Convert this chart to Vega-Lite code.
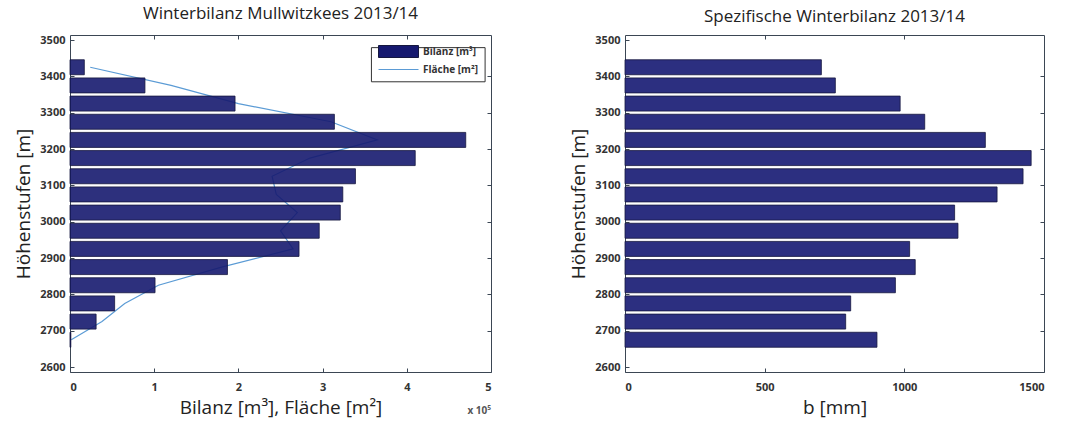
{
  "$schema": "https://vega.github.io/schema/vega-lite/v6.json",
  "background": "white",
  "padding": {"left": 14, "top": 4, "right": 0, "bottom": 0},
  "spacing": 77,
  "resolve": {"legend": {"fill": "independent", "stroke": "independent"}, "scale": {"fill": "independent", "stroke": "independent"}},
  "config": {
    "font": "Open Sans",
    "view": {"stroke": "#3b4654", "strokeWidth": 1},
    "axis": {
      "grid": false,
      "domain": false,
      "tickSize": -4,
      "tickColor": "#3b4654",
      "labelFontSize": 11,
      "labelFontWeight": "bold",
      "labelColor": "#333333",
      "labelPadding": 9,
      "labelOverlap": false,
      "format": "d",
      "titleFontSize": 19,
      "titleFontWeight": "normal",
      "titleColor": "#222222",
      "titleFont": "Open Sans"
    },
    "axisX": {"labelPadding": 13, "titlePadding": 6},
    "legend": {
      "title": null,
      "orient": "none",
      "padding": 0,
      "labelFontSize": 10,
      "labelFontWeight": "bold",
      "labelColor": "#333333",
      "labelOffset": 4,
      "symbolSize": 1600,
      "labelLimit": 200
    },
    "title": {"fontSize": 17, "fontWeight": "normal", "color": "#222222", "offset": 8, "font": "Open Sans"}
  },
  "datasets": {
    "stufen": [
      {"hoehe": 2675, "bilanz": 1000, "flaeche": 1500, "b": 902},
      {"hoehe": 2725, "bilanz": 31000, "flaeche": 38000, "b": 790},
      {"hoehe": 2775, "bilanz": 53000, "flaeche": 65000, "b": 808},
      {"hoehe": 2825, "bilanz": 101000, "flaeche": 105000, "b": 968},
      {"hoehe": 2875, "bilanz": 187000, "flaeche": 180000, "b": 1039},
      {"hoehe": 2925, "bilanz": 272000, "flaeche": 265000, "b": 1019},
      {"hoehe": 2975, "bilanz": 296000, "flaeche": 250000, "b": 1192},
      {"hoehe": 3025, "bilanz": 321000, "flaeche": 270000, "b": 1180},
      {"hoehe": 3075, "bilanz": 324000, "flaeche": 245000, "b": 1332},
      {"hoehe": 3125, "bilanz": 339000, "flaeche": 240000, "b": 1425},
      {"hoehe": 3175, "bilanz": 410000, "flaeche": 285000, "b": 1454},
      {"hoehe": 3225, "bilanz": 470000, "flaeche": 365000, "b": 1290},
      {"hoehe": 3275, "bilanz": 314000, "flaeche": 310000, "b": 1073},
      {"hoehe": 3325, "bilanz": 196000, "flaeche": 200000, "b": 985},
      {"hoehe": 3375, "bilanz": 89000, "flaeche": 120000, "b": 753},
      {"hoehe": 3425, "bilanz": 17000, "flaeche": 24000, "b": 703}
    ]
  },
  "hconcat": [
    {
      "width": 421,
      "height": 337,
      "title": "Winterbilanz Mullwitzkees 2013/14",
      "resolve": {"axis": {"x": "independent", "y": "independent"}},
      "layer": [
        {
          "data": {"name": "stufen"},
          "mark": {"type": "line", "strokeWidth": 1.2},
          "encoding": {
            "x": {
              "field": "flaeche", "type": "quantitative",
              "scale": {"domain": [0, 500000], "nice": false},
              "axis": {"values": [0, 100000, 200000, 300000, 400000, 500000], "labelExpr": "datum.value / 100000", "title": "Bilanz [m³], Fläche [m²]"}
            },
            "y": {
              "field": "hoehe", "type": "quantitative",
              "scale": {"domain": [2600, 3500], "nice": false, "zero": false},
              "axis": {"values": [2600, 2700, 2800, 2900, 3000, 3100, 3200, 3300, 3400, 3500], "title": "Höhenstufen [m]", "titlePadding": 6}
            },
            "order": {"field": "hoehe", "type": "quantitative"},
            "stroke": {
              "datum": "Fläche [m²]",
              "scale": {"range": ["#5b9bd5"]},
              "legend": {"symbolType": "stroke", "symbolStrokeWidth": 1, "legendX": 308, "legendY": 14, "zindex": 2}
            }
          }
        },
        {
          "data": {"name": "stufen"},
          "mark": {"type": "bar", "orient": "horizontal", "height": 15, "fillOpacity": 0.9, "stroke": "#15173f", "strokeWidth": 0.8},
          "encoding": {
            "x": {"field": "bilanz", "type": "quantitative", "axis": null},
            "y": {"field": "hoehe", "type": "quantitative", "axis": null},
            "fill": {
              "datum": "Bilanz [m³]",
              "scale": {"range": ["#16196f"]},
              "legend": {"symbolType": "M-1,-0.3H1V0.3H-1Z", "symbolStrokeColor": "#15173f", "symbolStrokeWidth": 1, "symbolFillColor": "#2c2f80", "legendX": 308, "legendY": -4, "zindex": 2}
            }
          }
        },
        {
          "data": {"values": [{"x0": 358000, "x1": 493000, "y0": 3385, "y1": 3479}]},
          "mark": {"type": "rect", "fill": "white", "stroke": "#333333", "strokeWidth": 1},
          "encoding": {
            "x": {"field": "x0", "type": "quantitative", "axis": null},
            "x2": {"field": "x1"},
            "y": {"field": "y0", "type": "quantitative", "axis": null},
            "y2": {"field": "y1"}
          }
        },
        {
          "data": {"values": [{"einheit": "x 10⁵"}]},
          "mark": {"type": "text", "align": "right", "baseline": "top", "dy": 39, "fontSize": 10, "fontWeight": "bold", "color": "#555555"},
          "encoding": {
            "x": {"datum": 500000, "type": "quantitative", "axis": {"orient": "top", "values": [100000, 200000, 300000, 400000], "labels": false, "title": null}},
            "y": {"datum": 2600, "type": "quantitative", "axis": {"orient": "right", "values": [2700, 2800, 2900, 3000, 3100, 3200, 3300, 3400], "labels": false, "title": null}},
            "text": {"field": "einheit"}
          }
        }
      ]
    },
    {
      "width": 419,
      "height": 337,
      "title": "Spezifische Winterbilanz 2013/14",
      "resolve": {"axis": {"x": "independent", "y": "independent"}},
      "layer": [
        {
          "data": {"name": "stufen"},
          "mark": {"type": "bar", "orient": "horizontal", "height": 15, "color": "#2c2f80", "stroke": "#15173f", "strokeWidth": 0.8},
          "encoding": {
            "x": {
              "field": "b", "type": "quantitative",
              "scale": {"domain": [0, 1500], "nice": false},
              "axis": {"values": [0, 500, 1000, 1500], "title": "b [mm]"}
            },
            "y": {
              "field": "hoehe", "type": "quantitative",
              "scale": {"domain": [2600, 3500], "nice": false, "zero": false},
              "axis": {"values": [2600, 2700, 2800, 2900, 3000, 3100, 3200, 3300, 3400, 3500], "title": "Höhenstufen [m]", "titlePadding": 6}
            }
          }
        },
        {
          "data": {"values": [{"leer": ""}]},
          "mark": {"type": "text"},
          "encoding": {
            "x": {"datum": 0, "type": "quantitative", "axis": {"orient": "top", "values": [500, 1000], "labels": false, "title": null}},
            "y": {"datum": 2600, "type": "quantitative", "axis": {"orient": "right", "values": [2700, 2800, 2900, 3000, 3100, 3200, 3300, 3400], "labels": false, "title": null}},
            "text": {"field": "leer"}
          }
        }
      ]
    }
  ]
}
